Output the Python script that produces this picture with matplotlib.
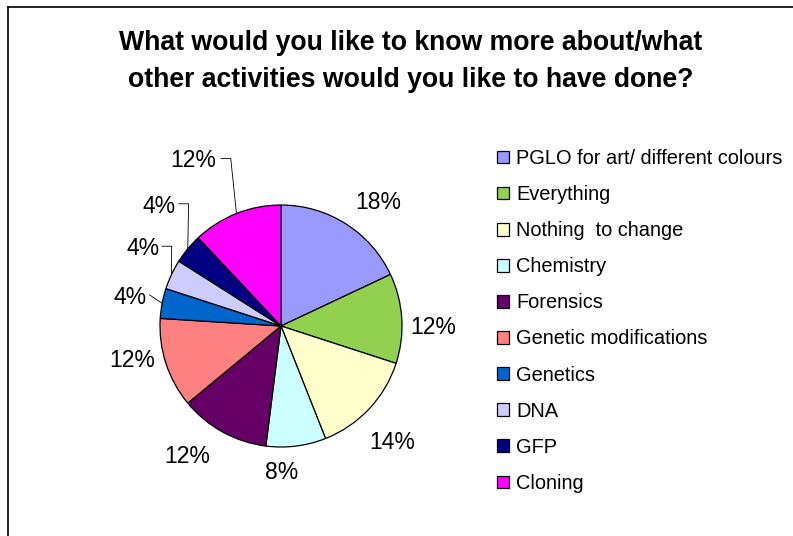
import numpy as np
import matplotlib
matplotlib.use("Agg")
import matplotlib.pyplot as plt
from matplotlib.lines import Line2D

plt.rcParams['font.family'] = ['Liberation Sans', 'DejaVu Sans']

# data
categories = ['PGLO for art/ different colours', 'Everything', 'Nothing  to change',
              'Chemistry', 'Forensics', 'Genetic modifications', 'Genetics',
              'DNA', 'GFP', 'Cloning']
counts = [9, 6, 7, 4, 6, 6, 2, 2, 2, 6]
pct_labels = ['18%', '12%', '14%', '8%', '12%', '12%', '4%', '4%', '4%', '12%']

colors = ['#9999FF', '#92D050', '#FFFFCC', '#CCFFFF', '#660066',
          '#FF8080', '#0066CC', '#CCCCFF', '#000080', '#FF00FF']

# label placement (radius, angle shift in degrees), leader line flags
label_r = [1.30, 1.26, 1.33, 1.21, 1.33, 1.26, 1.27, 1.31, 1.41, 1.545]
label_shift = [-6, -4, -3, -7, -7, -5, 0, -4, -5, 6.4]
leader = [False, False, False, False, False, False, True, True, True, True]

W, H = 793, 536
fig = plt.figure(figsize=(W / 100, H / 100), dpi=100)

# pie axes: center at (281, 326) px, radius 121 px
R = 121.0
cx, cy = 281.0, 326.0
xr, yr = 2.0, 1.7
ax = fig.add_axes([(cx - xr * R) / W, (H - cy - yr * R) / H, 2 * xr * R / W, 2 * yr * R / H])

wedges, _ = ax.pie(counts, colors=colors, startangle=90, counterclock=False,
                   wedgeprops=dict(edgecolor='black', linewidth=0.9))
ax.set_xlim(-xr, xr)
ax.set_ylim(-yr, yr)
ax.set_aspect('auto')
ax.axis('off')

for i, w in enumerate(wedges):
    mid = np.deg2rad((w.theta1 + w.theta2) / 2)
    ang = mid + np.deg2rad(label_shift[i])
    tx, ty = label_r[i] * np.cos(ang), label_r[i] * np.sin(ang)
    ax.text(tx, ty, pct_labels[i], ha='center', va='center', fontsize=16.5)
    if leader[i]:
        ex, ey = np.cos(mid), np.sin(mid)
        half = 0.07 * len(pct_labels[i])
        right = tx + half + 0.02
        ly = ty + 0.02
        if i == 6:
            ax.plot([right, ex], [ly, ey], color='black', lw=0.6)
        else:
            ax.plot([right, right + 0.08, ex], [ly, ly, ey], color='black', lw=0.6)

fig.text(411 / W, 1 - 43 / H, 'What would you like to know more about/what',
         ha='center', va='center', fontsize=19.2, fontweight='bold')
fig.text(411 / W, 1 - 80 / H, 'other activities would you like to have done?',
         ha='center', va='center', fontsize=19.2, fontweight='bold')

fig.legend(wedges, categories, loc='upper left', bbox_to_anchor=(497 / W, 1 - 149 / H),
           frameon=False, fontsize=14.4, handlelength=0.6, handleheight=0.6,
           handletextpad=0.35, labelspacing=0.855, borderpad=0, borderaxespad=0)

# chart border (only left and top edges are inside the image)
fig.add_artist(Line2D([8 / W, 8 / W], [0, 1 - 7 / H], transform=fig.transFigure, color='black', lw=1.2))
fig.add_artist(Line2D([8 / W, 1], [1 - 7 / H, 1 - 7 / H], transform=fig.transFigure, color='black', lw=1.2))

fig.savefig('out.png', dpi=100)
